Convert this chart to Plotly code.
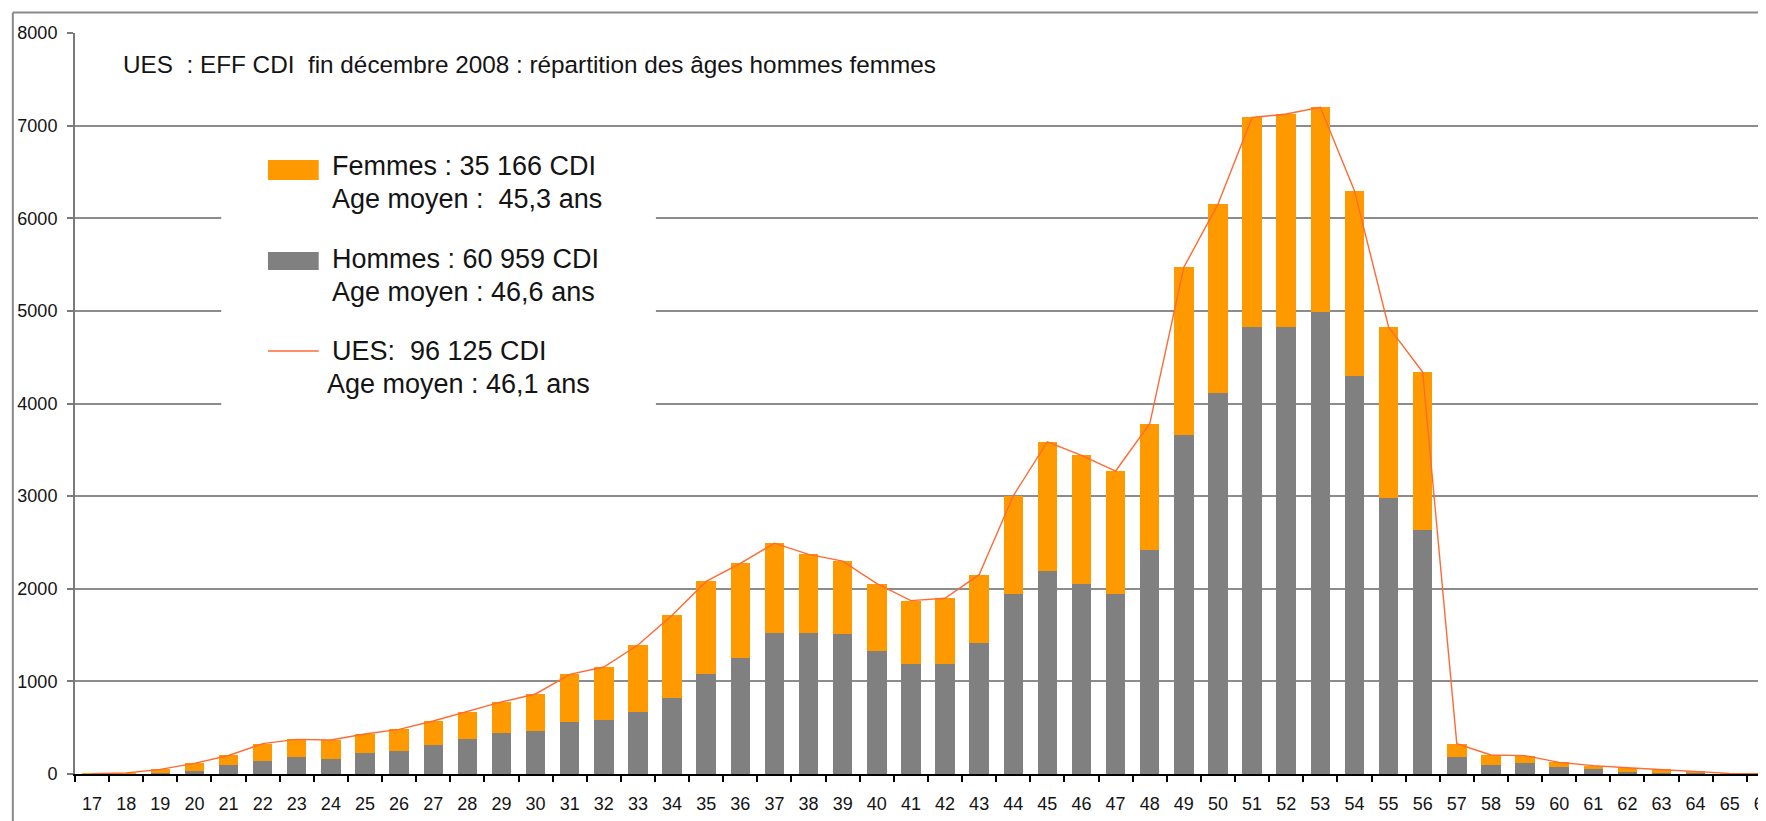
import plotly.graph_objects as go

# ---------------- data ----------------
ages = [str(a) for a in range(17, 67)]

hommes = [0, 5, 15, 32, 97, 137, 180, 162, 223, 248,
          310, 374, 439, 461, 565, 583, 673, 824, 1080, 1249,
          1520, 1520, 1508, 1332, 1184, 1184, 1418, 1945, 2188, 2055,
          1945, 2419, 3660, 4109, 4827, 4827, 4985, 4292, 2979, 2638,
          180, 97, 115, 72, 50, 25, 14, 14, 3, 0]

femmes = [3, 5, 35, 83, 103, 191, 194, 205, 209, 234,
          262, 299, 339, 403, 511, 572, 720, 890, 999, 1024,
          972, 851, 790, 723, 688, 713, 734, 1058, 1399, 1386,
          1326, 1362, 1811, 2043, 2261, 2298, 2213, 2006, 1848, 1702,
          148, 108, 83, 54, 40, 43, 36, 15, 4, 2]

ues_total = [h + f for h, f in zip(hommes, femmes)]

y_ticks = [0, 1000, 2000, 3000, 4000, 5000, 6000, 7000, 8000]
y_tick_text = [str(v) for v in y_ticks]

titre = "UES\u00a0 : EFF CDI\u00a0 fin décembre 2008 : répartition des âges hommes femmes"
leg_femmes = ["Femmes : 35 166 CDI", "Age moyen :\u00a0 45,3 ans"]
leg_hommes = ["Hommes : 60 959 CDI", "Age moyen : 46,6 ans"]
leg_ues = ["UES:\u00a0 96 125 CDI", "Age moyen : 46,1 ans"]

# ---------------- styling ----------------
ORANGE = "#FF9900"
GRIS = "#808080"
LIGNE = "#FF6A33"
FONT = "Liberation Sans, Arial, sans-serif"
TXT = "#141414"

W, H = 1766, 821
OFF = 8                      # page offset of the figure (body margin)
L, T, R, B = 67, 25, 1766, 766   # plot area in figure pixels


def px(x):
    """page x pixel -> paper fraction"""
    return (x - OFF - L) / (R - L)


def py(y):
    """page y pixel -> paper fraction"""
    return (B - (y - OFF)) / (B - T)


fig = go.Figure()
fig.add_trace(go.Bar(x=ages, y=hommes, marker=dict(color=GRIS, line=dict(width=0)),
                     name="Hommes", showlegend=False))
fig.add_trace(go.Bar(x=ages, y=femmes, marker=dict(color=ORANGE, line=dict(width=0)),
                     name="Femmes", showlegend=False))
fig.add_trace(go.Scatter(x=ages, y=ues_total, mode="lines",
                         line=dict(color=LIGNE, width=1.4),
                         name="UES", showlegend=False))

shapes = []
# outer frame (cropped on right and bottom)
shapes.append(dict(type="line", xref="paper", yref="paper",
                   x0=px(12.5), x1=px(1800), y0=py(12.5), y1=py(12.5),
                   line=dict(color="#8a8a8a", width=2)))
shapes.append(dict(type="line", xref="paper", yref="paper",
                   x0=px(12.5), x1=px(12.5), y0=py(12.5), y1=py(860),
                   line=dict(color="#8a8a8a", width=2)))
# white legend background covering gridlines
shapes.append(dict(type="rect", xref="paper", yref="paper",
                   x0=px(222), x1=px(659), y0=py(430), y1=py(140),
                   fillcolor="white", line=dict(width=0), layer="above"))
# legend swatches
shapes.append(dict(type="rect", xref="paper", yref="paper",
                   x0=px(269), x1=px(320), y0=py(180), y1=py(160),
                   fillcolor=ORANGE, line=dict(width=0), layer="above"))
shapes.append(dict(type="rect", xref="paper", yref="paper",
                   x0=px(269), x1=px(320), y0=py(270), y1=py(252),
                   fillcolor=GRIS, line=dict(width=0), layer="above"))
shapes.append(dict(type="line", xref="paper", yref="paper",
                   x0=px(269), x1=px(320), y0=py(351), y1=py(351),
                   line=dict(color=LIGNE, width=1.5), layer="above"))

annotations = []


def txt(s, x, y, size, anchor="left"):
    annotations.append(dict(text=s, xref="paper", yref="paper",
                            x=px(x), y=py(y), xanchor=anchor, yanchor="middle",
                            showarrow=False,
                            font=dict(family=FONT, size=size, color=TXT)))


txt(titre, 121, 65, 24.3)
txt(leg_femmes[0], 331, 166, 27)
txt(leg_femmes[1], 331, 199, 27)
txt(leg_hommes[0], 331, 259, 27)
txt(leg_hommes[1], 331, 292, 27)
txt(leg_ues[0], 331, 351, 27)
txt(leg_ues[1], 326, 384, 27)

cat_w = 34.3
x_end = (R - L) / cat_w - 0.5

fig.update_layout(
    width=W, height=H,
    margin=dict(l=L, r=W - R, t=T, b=H - B, pad=0),
    paper_bgcolor="white", plot_bgcolor="white",
    barmode="stack", bargap=0.43,
    shapes=shapes, annotations=annotations,
    font=dict(family=FONT, color=TXT),
)

fig.update_xaxes(
    type="category", range=[-0.5, x_end],
    showline=True, linecolor="black", linewidth=2,
    ticks="outside", tickson="boundaries", ticklen=6, tickwidth=2, tickcolor="black",
    tickfont=dict(family=FONT, size=18, color=TXT),
    ticklabelstandoff=12,
    showgrid=False, zeroline=False,
)
fig.update_yaxes(
    range=[0, 8000],
    tickvals=y_ticks, ticktext=y_tick_text,
    showline=True, linecolor="#7a7a7a", linewidth=2,
    ticks="outside", ticklen=6, tickwidth=2, tickcolor="#7a7a7a",
    tickfont=dict(family=FONT, size=18, color=TXT),
    ticklabelstandoff=6,
    showgrid=True, gridcolor="#8c8c8c", gridwidth=1.6,
    zeroline=False,
)

fig.write_html("out.html")
